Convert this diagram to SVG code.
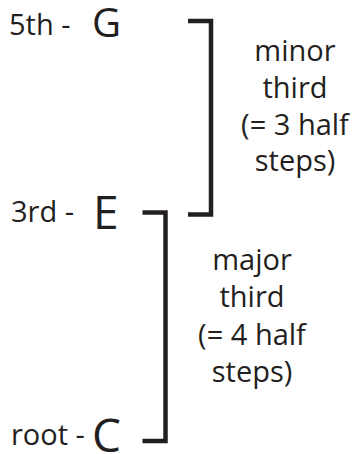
<svg xmlns="http://www.w3.org/2000/svg" width="357" height="454" viewBox="0 0 357 454">
<style>
text{font-family:"Open Sans","Noto Sans","Liberation Sans",sans-serif;fill:#231f20}
.lab{font-size:29px}
.note{font-size:29px;text-anchor:middle}
.g{font-size:40px}
.big{font-size:46px}
.br{fill:none;stroke:#231f20;stroke-width:4.5;stroke-linejoin:miter;stroke-linecap:butt}
</style>
<rect width="357" height="454" fill="#fff"/>
<g id="node-G">
<text class="lab" x="9" y="35">5th -</text>
<text class="g" x="92" y="37">G</text>
</g>
<g id="node-E">
<text class="lab" x="11" y="222">3rd -</text>
<text class="big" x="93" y="229">E</text>
</g>
<g id="node-C">
<text class="lab" x="11" y="445">root -</text>
<text class="big" x="92" y="452">C</text>
</g>
<g id="connectors">
<path class="br" d="M188,21H211V214.5H188"/>
<path class="br" d="M142.5,212.5H165.5V441H142.5"/>
</g>
<g id="label-minor">
<text class="note" x="295" y="61">minor</text>
<text class="note" x="295" y="98">third</text>
<text class="note" x="295" y="135">(= 3 half</text>
<text class="note" x="295" y="171">steps)</text>
</g>
<g id="label-major">
<text class="note" x="252" y="270">major</text>
<text class="note" x="252" y="307">third</text>
<text class="note" x="252" y="345">(= 4 half</text>
<text class="note" x="252" y="382">steps)</text>
</g>
</svg>
